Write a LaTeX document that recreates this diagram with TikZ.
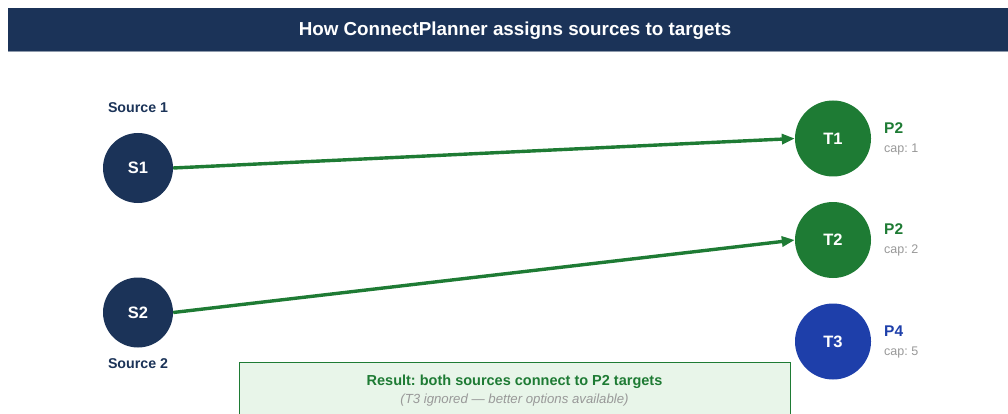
\documentclass[tikz,border=0pt]{standalone}
\usepackage{fontspec}
\setmainfont{Liberation Sans}
\frenchspacing
\usetikzlibrary{arrows.meta}
\definecolor{navy}{HTML}{1B3358}
\definecolor{grn}{HTML}{1E7B34}
\definecolor{blu}{HTML}{1E3FAA}
\definecolor{gry}{HTML}{999999}
\definecolor{lgrn}{HTML}{E8F5E9}
\tikzset{
  src/.style={circle, fill=navy, minimum size=70pt, inner sep=0pt, text=white, font=\fontsize{16.5}{19}\selectfont\bfseries},
  tgt/.style={circle, minimum size=76pt, inner sep=0pt, text=white, font=\fontsize{16.5}{19}\selectfont\bfseries},
  srclbl/.style={text=navy, font=\fontsize{14.2}{17}\selectfont\bfseries},
  plbl/.style={anchor=west, inner sep=0pt, font=\fontsize{15.5}{18}\selectfont\bfseries},
  caplbl/.style={anchor=west, inner sep=0pt, text=gry, font=\fontsize{12.5}{14}\selectfont},
  conn/.style={draw=grn, line width=3.4pt, -{Triangle[length=13pt,width=10pt]}},
}
\begin{document}
\begin{tikzpicture}[x=1pt,y=-1pt]
\useasboundingbox (0,0) rectangle (1008,414);
\clip (0,0) rectangle (1008,414);
\fill[white] (0,0) rectangle (1008,414);
% header
\fill[navy] (8,8) rectangle (1008,52);
\draw[color=navy!50!white, line width=1pt] (8,52) -- (1008,52);
\node[text=white, font=\fontsize{18.8}{22}\selectfont\bfseries] (title) at (515,30.5) {How ConnectPlanner assigns sources to targets};
% sources
\node[src] (s1) at (138,168) {S1};
\node[src] (s2) at (138,312.5) {S2};
\node[srclbl] (l1) at (138,107.5) {Source 1};
\node[srclbl] (l2) at (138,363.5) {Source 2};
% targets
\node[tgt, fill=grn] (t1) at (833,138.5) {T1};
\node[tgt, fill=grn] (t2) at (833,240) {T2};
\node[tgt, fill=blu] (t3) at (833,341.5) {T3};
\node[plbl, text=grn] (p1) at (884,128) {P2};
\node[caplbl] (c1) at (884,149) {cap: 1};
\node[plbl, text=grn] (p2) at (884,229) {P2};
\node[caplbl] (c2) at (884,250) {cap: 2};
\node[plbl, text=blu] (p3) at (884,331) {P4};
\node[caplbl] (c3) at (884,352) {cap: 5};
% connectors
\path[conn] (s1.east) -- (t1.west);
\path[conn] (s2.east) -- (t2.west);
% result box
\node[draw=grn, line width=1pt, fill=lgrn, minimum width=551pt, minimum height=70pt, anchor=north west, inner sep=0pt] (res) at (239,362) {};
\node[text=grn, font=\fontsize{14.5}{17}\selectfont\bfseries] (rt) at (514.5,382) {Result: both sources connect to P2 targets};
\node[text=gry, font=\fontsize{13.2}{15}\selectfont\itshape] (rs) at (514.5,400.5) {(T3 ignored — better options available)};
\end{tikzpicture}
\end{document}
